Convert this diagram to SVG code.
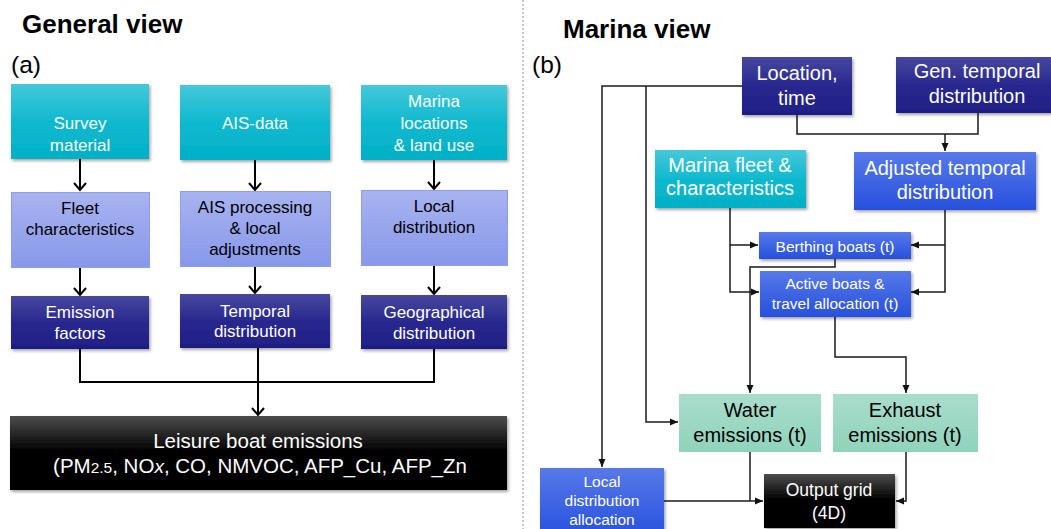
<svg xmlns="http://www.w3.org/2000/svg" width="1051" height="529" viewBox="0 0 1051 529">
<defs>
<linearGradient id="gCyan" x1="0" y1="0" x2="0" y2="1"><stop offset="0" stop-color="#45c8da"/><stop offset="0.5" stop-color="#10b9cf"/><stop offset="1" stop-color="#00b0c6"/></linearGradient>
<linearGradient id="gLav" x1="0" y1="0" x2="0" y2="1"><stop offset="0" stop-color="#a8b3f0"/><stop offset="1" stop-color="#8898ea"/></linearGradient>
<linearGradient id="gNavy" x1="0" y1="0" x2="0" y2="1"><stop offset="0" stop-color="#47479f"/><stop offset="0.5" stop-color="#28288e"/><stop offset="1" stop-color="#1e1e86"/></linearGradient>
<linearGradient id="gBlue" x1="0" y1="0" x2="0" y2="1"><stop offset="0" stop-color="#5779e9"/><stop offset="1" stop-color="#2650dd"/></linearGradient>
<linearGradient id="gMint" x1="0" y1="0" x2="0" y2="1"><stop offset="0" stop-color="#a9ddcb"/><stop offset="1" stop-color="#8fd3bb"/></linearGradient>
<linearGradient id="gBlack" x1="0" y1="0" x2="0" y2="1"><stop offset="0" stop-color="#4d4d4d"/><stop offset="0.45" stop-color="#050505"/><stop offset="1" stop-color="#000"/></linearGradient>
<filter id="sh" x="-10%" y="-10%" width="130%" height="140%"><feDropShadow dx="1.5" dy="2" stdDeviation="1.5" flood-color="#000" flood-opacity="0.35"/></filter>
<marker id="av" markerUnits="userSpaceOnUse" markerWidth="14" markerHeight="14" refX="7" refY="6" orient="auto" overflow="visible"><path d="M0,0 L7,6 L0,12" fill="none" stroke="#000" stroke-width="2"/></marker>
<marker id="at" markerUnits="userSpaceOnUse" markerWidth="10" markerHeight="10" refX="8" refY="3.5" orient="auto" overflow="visible"><path d="M0,0 L8,3.5 L0,7 z" fill="#111"/></marker>
</defs>
<style>
text{font-family:"Liberation Sans",Arial,sans-serif;text-anchor:middle}
.t17{font-size:17px}
.t20{font-size:20px}
.t155{font-size:15.5px}
.w{fill:#fff}
.k{fill:#000}
.h{font-size:26px;font-weight:bold;text-anchor:start;fill:#000}
.lab{font-size:24.5px;text-anchor:start;fill:#000}
.cl{fill:none;stroke:#000;stroke-width:2}
.cr{fill:none;stroke:#1a1a1a;stroke-width:1.5}
</style>
<rect width="1051" height="529" fill="#fff"/>
<line x1="523" y1="0" x2="523" y2="529" stroke="#b4b0d4" stroke-width="1.5" stroke-dasharray="2 2"/>
<text class="h" x="22" y="33">General view</text>
<text class="lab" x="11" y="73">(a)</text>
<text class="h" x="563" y="38">Marina view</text>
<text class="lab" x="532" y="73">(b)</text>

<g id="connectors">
<path class="cl" d="M80,159 V190" marker-end="url(#av)"/>
<path class="cl" d="M255,160 V190" marker-end="url(#av)"/>
<path class="cl" d="M434,160 V189" marker-end="url(#av)"/>
<path class="cl" d="M80,268 V295" marker-end="url(#av)"/>
<path class="cl" d="M255,267 V293" marker-end="url(#av)"/>
<path class="cl" d="M434,266 V294" marker-end="url(#av)"/>
<path class="cl" d="M80,349 V382 H434 V349"/>
<path class="cl" d="M258,348 V415" marker-end="url(#av)"/>

<path class="cr" d="M742,86 H602 V467" marker-end="url(#at)"/>
<path class="cr" d="M646,86 V422 H678" marker-end="url(#at)"/>
<path class="cr" d="M797,115 V134 H978 V113"/>
<path class="cr" d="M945,134 V151" marker-end="url(#at)"/>
<path class="cr" d="M730,208 V292 H759" marker-end="url(#at)"/>
<path class="cr" d="M730,245 H758" marker-end="url(#at)"/>
<path class="cr" d="M945,210 V292 H911" marker-end="url(#at)"/>
<path class="cr" d="M945,245 H911" marker-end="url(#at)"/>
<path class="cr" d="M835,259 V267 H750 V393" marker-end="url(#at)"/>
<path class="cr" d="M835,317 V357 H906 V393" marker-end="url(#at)"/>
<path class="cr" d="M750,452 V501"/>
<path class="cr" d="M664,501 H763" marker-end="url(#at)"/>
<path class="cr" d="M906,452 V501 H896" marker-end="url(#at)"/>
</g>

<g id="survey"><rect x="11" y="84" width="138" height="75" fill="url(#gCyan)" filter="url(#sh)"/><text class="t17 w" x="80" y="129">Survey</text><text class="t17 w" x="80" y="151">material</text></g>
<g id="ais-data"><rect x="180" y="85" width="150" height="75" fill="url(#gCyan)" filter="url(#sh)"/><text class="t17 w" x="255" y="129">AIS-data</text></g>
<g id="marina-locations"><rect x="361" y="85" width="146" height="75" fill="url(#gCyan)" filter="url(#sh)"/><text class="t17 w" x="434" y="107">Marina</text><text class="t17 w" x="434" y="129">locations</text><text class="t17 w" x="434" y="151">&amp; land use</text></g>

<g id="fleet-characteristics"><rect x="11.5" y="192.5" width="138" height="75" fill="url(#gLav)" stroke="#8d9eef" stroke-width="1"/><text class="t17 k" x="80" y="214">Fleet</text><text class="t17 k" x="80" y="235">characteristics</text></g>
<g id="ais-processing"><rect x="180.5" y="191.5" width="150" height="75" fill="url(#gLav)" stroke="#8d9eef" stroke-width="1"/><text class="t17 k" x="255" y="213">AIS processing</text><text class="t17 k" x="255" y="234">&amp; local</text><text class="t17 k" x="255" y="255">adjustments</text></g>
<g id="local-distribution"><rect x="361.5" y="190.5" width="146" height="75" fill="url(#gLav)" stroke="#8d9eef" stroke-width="1"/><text class="t17 k" x="434" y="212">Local</text><text class="t17 k" x="434" y="233">distribution</text></g>

<g id="emission-factors"><rect x="11" y="296" width="138" height="53" fill="url(#gNavy)" filter="url(#sh)"/><text class="t17 w" x="80" y="318">Emission</text><text class="t17 w" x="80" y="339">factors</text></g>
<g id="temporal-distribution"><rect x="180" y="294" width="150" height="54" fill="url(#gNavy)" filter="url(#sh)"/><text class="t17 w" x="255" y="317">Temporal</text><text class="t17 w" x="255" y="337">distribution</text></g>
<g id="geographical-distribution"><rect x="361" y="295" width="146" height="54" fill="url(#gNavy)" filter="url(#sh)"/><text class="t17 w" x="434" y="318">Geographical</text><text class="t17 w" x="434" y="339">distribution</text></g>

<g id="leisure-boat-emissions"><rect x="10" y="416" width="497" height="74" fill="url(#gBlack)" filter="url(#sh)"/><text class="w" style="font-size:20.5px" x="258" y="448">Leisure boat emissions</text><text class="w" style="font-size:20.5px" x="260" y="473">(PM<tspan style="font-size:15.5px">2.5</tspan>, NO<tspan style="font-size:19px;font-style:italic">x</tspan>, CO, NMVOC, AFP_Cu, AFP_Zn</text></g>

<g id="location-time"><rect x="742" y="57" width="110" height="58" fill="url(#gNavy)" filter="url(#sh)"/><text class="t20 w" x="797" y="80">Location,</text><text class="t20 w" x="797" y="105">time</text></g>
<g id="gen-temporal"><rect x="896" y="57" width="162" height="56" fill="url(#gNavy)" filter="url(#sh)"/><text class="t20 w" x="977" y="78">Gen. temporal</text><text class="t20 w" x="977" y="103">distribution</text></g>
<g id="marina-fleet"><rect x="655" y="150" width="151" height="58" fill="url(#gCyan)" filter="url(#sh)"/><text class="t20 w" x="730" y="172">Marina fleet &amp;</text><text class="t20 w" x="730" y="195">characteristics</text></g>
<g id="adjusted-temporal"><rect x="854" y="152" width="182" height="58" fill="url(#gBlue)" filter="url(#sh)"/><text class="t20 w" x="945" y="175">Adjusted temporal</text><text class="t20 w" x="945" y="199">distribution</text></g>
<g id="berthing-boats"><rect x="759" y="232" width="152" height="27" fill="url(#gBlue)" filter="url(#sh)"/><text class="t155 w" x="835" y="252">Berthing boats (t)</text></g>
<g id="active-boats"><rect x="760" y="271" width="151" height="46" fill="url(#gBlue)" filter="url(#sh)"/><text class="t155 w" x="835" y="289">Active boats &amp;</text><text class="t155 w" x="835" y="309">travel allocation (t)</text></g>
<g id="water-emissions"><rect x="679" y="394" width="142" height="58" fill="url(#gMint)"/><text class="t20 k" x="750" y="417">Water</text><text class="t20 k" x="750" y="442">emissions (t)</text></g>
<g id="exhaust-emissions"><rect x="833" y="394" width="145" height="58" fill="url(#gMint)"/><text class="t20 k" x="905" y="417">Exhaust</text><text class="t20 k" x="905" y="442">emissions (t)</text></g>
<g id="local-distribution-allocation"><rect x="540" y="468" width="124" height="70" fill="url(#gBlue)" filter="url(#sh)"/><text class="t155 w" x="602" y="487">Local</text><text class="t155 w" x="602" y="506">distribution</text><text class="t155 w" x="602" y="525">allocation</text></g>
<g id="output-grid"><rect x="764" y="474" width="131" height="54" fill="url(#gBlack)" filter="url(#sh)"/><text class="w" style="font-size:17.5px" x="829" y="496">Output grid</text><text class="w" style="font-size:17.5px" x="829" y="519">(4D)</text></g>
</svg>
